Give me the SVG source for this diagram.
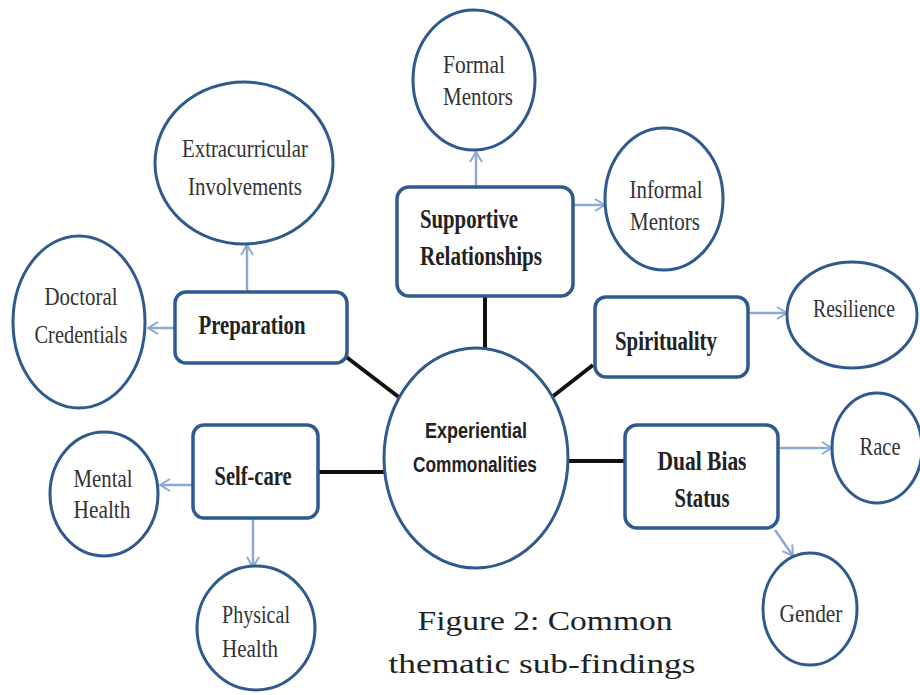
<svg xmlns="http://www.w3.org/2000/svg" width="920" height="695" viewBox="0 0 920 695">
<defs>
<marker id="arr" markerUnits="userSpaceOnUse" markerWidth="12" markerHeight="14" refX="11" refY="7" orient="auto">
<path d="M1,1 L11,7 L1,13" fill="none" stroke="#8DA9D6" stroke-width="2"/>
</marker>
</defs>
<style>
.box{fill:#fff;stroke:#2E5A8E;stroke-width:3.5}
.ell{fill:#fff;stroke:#2E5A8E;stroke-width:3}
.bt{font-family:"Liberation Serif",serif;font-weight:bold;font-size:27px;fill:#222;text-anchor:middle}
.et{font-family:"Liberation Serif",serif;font-size:26px;fill:#333;text-anchor:middle}
.ct{font-family:"Liberation Sans",sans-serif;font-weight:bold;font-size:22px;fill:#222;text-anchor:middle}
.cap{font-family:"Liberation Serif",serif;font-size:28px;fill:#222;text-anchor:middle}
.arw{stroke:#8DA9D6;stroke-width:2.5;fill:none;marker-end:url(#arr)}
.blk{stroke:#111;stroke-width:4;fill:none}
</style>
<rect width="920" height="695" fill="#fff"/>
<g id="connectors">
<line class="arw" x1="247" y1="292" x2="247" y2="245"/>
<line class="arw" x1="175" y1="328" x2="148" y2="328"/>
<line class="arw" x1="476" y1="187" x2="476" y2="152"/>
<line class="arw" x1="573" y1="205" x2="605" y2="205"/>
<line class="arw" x1="748" y1="313" x2="787" y2="313"/>
<line class="arw" x1="778" y1="448" x2="832" y2="448"/>
<line class="arw" x1="775" y1="530" x2="793" y2="556"/>
<line class="arw" x1="193" y1="485" x2="160" y2="485"/>
<line class="arw" x1="253" y1="518" x2="253" y2="567"/>
<line class="blk" x1="345" y1="356" x2="400" y2="398"/>
<line class="blk" x1="485" y1="296" x2="485" y2="348" stroke="#333" stroke-width="3"/>
<line class="blk" x1="593" y1="365" x2="552" y2="397"/>
<line class="blk" x1="566" y1="461" x2="625" y2="461" stroke-width="5"/>
<line class="blk" x1="318" y1="472" x2="386" y2="472"/>
</g>
<g id="center">
<ellipse class="ell" cx="476" cy="458" rx="92" ry="110"/>
<text class="ct" x="476" y="438" textLength="102" lengthAdjust="spacingAndGlyphs">Experiential</text>
<text class="ct" x="475" y="472" textLength="124" lengthAdjust="spacingAndGlyphs">Commonalities</text>
</g>
<g id="preparation">
<rect class="box" x="175" y="292" width="172" height="71" rx="11"/>
<text class="bt" x="252" y="334" textLength="107" lengthAdjust="spacingAndGlyphs">Preparation</text>
</g>
<g id="supportive">
<rect class="box" x="397" y="187" width="176" height="109" rx="12"/>
<text class="bt" x="469" y="228" textLength="98" lengthAdjust="spacingAndGlyphs">Supportive</text>
<text class="bt" x="481" y="265" textLength="122" lengthAdjust="spacingAndGlyphs">Relationships</text>
</g>
<g id="spirituality">
<rect class="box" x="595" y="297" width="153" height="80" rx="11"/>
<text class="bt" x="666" y="350" textLength="102" lengthAdjust="spacingAndGlyphs">Spirituality</text>
</g>
<g id="dualbias">
<rect class="box" x="625" y="425" width="153" height="103" rx="12"/>
<text class="bt" x="702" y="470" textLength="89" lengthAdjust="spacingAndGlyphs">Dual Bias</text>
<text class="bt" x="702" y="507" textLength="55" lengthAdjust="spacingAndGlyphs">Status</text>
</g>
<g id="selfcare">
<rect class="box" x="193" y="425" width="125" height="93" rx="11"/>
<text class="bt" x="253" y="485" textLength="77" lengthAdjust="spacingAndGlyphs">Self-care</text>
</g>
<g id="formal">
<ellipse class="ell" cx="474" cy="80" rx="61" ry="70"/>
<text class="et" x="474" y="73" textLength="62" lengthAdjust="spacingAndGlyphs">Formal</text>
<text class="et" x="478" y="105" textLength="70" lengthAdjust="spacingAndGlyphs">Mentors</text>
</g>
<g id="informal">
<ellipse class="ell" cx="664" cy="199" rx="59" ry="71"/>
<text class="et" x="666" y="198" textLength="73" lengthAdjust="spacingAndGlyphs">Informal</text>
<text class="et" x="665" y="230" textLength="70" lengthAdjust="spacingAndGlyphs">Mentors</text>
</g>
<g id="resilience">
<ellipse class="ell" cx="852" cy="315" rx="65" ry="53"/>
<text class="et" x="854" y="317" textLength="82" lengthAdjust="spacingAndGlyphs">Resilience</text>
</g>
<g id="race">
<ellipse class="ell" cx="877" cy="448" rx="45" ry="55"/>
<text class="et" x="880" y="455" textLength="41" lengthAdjust="spacingAndGlyphs">Race</text>
</g>
<g id="gender">
<ellipse class="ell" cx="810" cy="609" rx="47" ry="56"/>
<text class="et" x="811" y="622" textLength="63" lengthAdjust="spacingAndGlyphs">Gender</text>
</g>
<g id="mental">
<ellipse class="ell" cx="104" cy="494" rx="54" ry="62"/>
<text class="et" x="103" y="487" textLength="59" lengthAdjust="spacingAndGlyphs">Mental</text>
<text class="et" x="102" y="518" textLength="57" lengthAdjust="spacingAndGlyphs">Health</text>
</g>
<g id="physical">
<ellipse class="ell" cx="256" cy="628" rx="59" ry="62"/>
<text class="et" x="256" y="623" textLength="68" lengthAdjust="spacingAndGlyphs">Physical</text>
<text class="et" x="250" y="657" textLength="56" lengthAdjust="spacingAndGlyphs">Health</text>
</g>
<g id="extracurricular">
<ellipse class="ell" cx="244" cy="163" rx="89" ry="81"/>
<text class="et" x="245" y="157" textLength="126" lengthAdjust="spacingAndGlyphs">Extracurricular</text>
<text class="et" x="245" y="195" textLength="114" lengthAdjust="spacingAndGlyphs">Involvements</text>
</g>
<g id="doctoral">
<ellipse class="ell" cx="79" cy="322" rx="66" ry="86"/>
<text class="et" x="81" y="305" textLength="73" lengthAdjust="spacingAndGlyphs">Doctoral</text>
<text class="et" x="81" y="343" textLength="93" lengthAdjust="spacingAndGlyphs">Credentials</text>
</g>
<g id="caption">
<text class="cap" x="545" y="630" textLength="255" lengthAdjust="spacingAndGlyphs">Figure 2: Common</text>
<text class="cap" x="542" y="673" textLength="307" lengthAdjust="spacingAndGlyphs">thematic sub-findings</text>
</g>
</svg>
